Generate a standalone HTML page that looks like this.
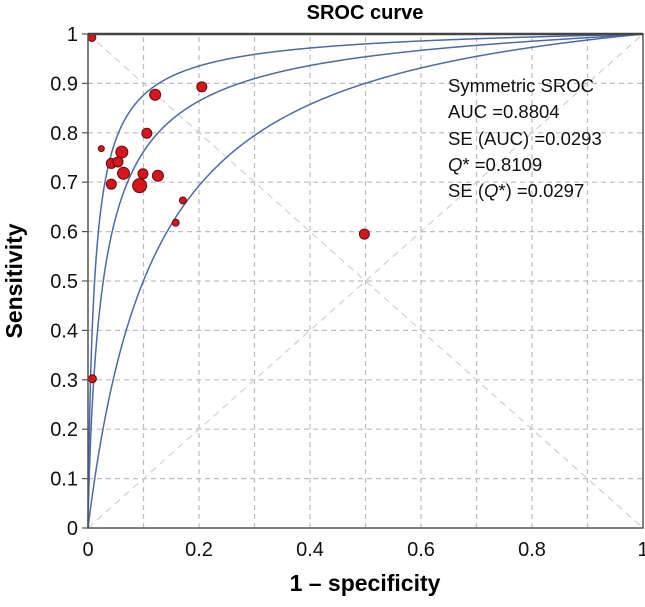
<!DOCTYPE html>
<html><head><meta charset="utf-8"><style>
body{margin:0;background:#fff;}
svg text{font-family:"Liberation Sans",Arial,sans-serif;}
</style></head><body>
<svg id="chart" width="645" height="602" viewBox="0 0 645 602" xmlns="http://www.w3.org/2000/svg">
<text x="365" y="19" text-anchor="middle" font-size="20" font-weight="bold">SROC curve</text>
<g id="grid"></g>
<g id="curves"></g>
<g id="points"></g>
<g id="axes"></g>
<text x="22" y="281" transform="rotate(-90 22 281)" text-anchor="middle" font-size="23" font-weight="bold">Sensitivity</text>
<text x="365" y="591" text-anchor="middle" font-size="23" font-weight="bold">1 – specificity</text>
<g font-size="18.5" fill="#111">
<text x="448" y="92">Symmetric SROC</text>
<text x="448" y="118">AUC =0.8804</text>
<text x="448" y="145">SE (AUC) =0.0293</text>
<text x="448" y="171"><tspan font-style="italic">Q</tspan>* =0.8109</text>
<text x="448" y="197">SE (<tspan font-style="italic">Q</tspan>*) =0.0297</text>
</g>
</svg>
<script>
const xTicks = [0,0.2,0.4,0.6,0.8,1];
const xTickLabels = ["0","0.2","0.4","0.6","0.8","1"];
const yTicks = [0,0.1,0.2,0.3,0.4,0.5,0.6,0.7,0.8,0.9,1];
const yTickLabels = ["0","0.1","0.2","0.3","0.4","0.5","0.6","0.7","0.8","0.9","1"];
const gridVals = [0.1,0.2,0.3,0.4,0.5,0.6,0.7,0.8,0.9];
const curveA = [3.89, 3.03, 2.2];
const curveB = [0.88, 0.85, 1.0];
const ptX = [0.007,0.205,0.121,0.106,0.024,0.061,0.042,0.054,0.064,0.099,0.126,0.042,0.093,0.171,0.158,0.498,0.008];
const ptY = [0.993,0.893,0.877,0.799,0.768,0.761,0.738,0.741,0.718,0.717,0.713,0.696,0.693,0.663,0.618,0.595,0.302];
const ptR = [4,5,5.5,5,3,6,5,5,6,5,5.5,5,7,3.5,3.5,5,4];

const X0=88, X1=643, Y0=528, Y1=34;
const sx = v => X0 + v*(X1-X0);
const sy = v => Y0 - v*(Y0-Y1);
const NS="http://www.w3.org/2000/svg";
function mk(tag, attrs, parent){const e=document.createElementNS(NS,tag);for(const k in attrs)e.setAttribute(k,attrs[k]);parent.appendChild(e);return e;}
const grid=document.getElementById('grid'), axes=document.getElementById('axes'), curves=document.getElementById('curves'), pts=document.getElementById('points');

gridVals.forEach(v=>{
  const a=mk('line',{x1:sx(v),x2:sx(v),y1:sy(0),y2:sy(1),stroke:'#bdbdbd','stroke-width':1.2,'stroke-dasharray':'5,4'},grid);
  
  
  const b=mk('line',{x1:sx(0),x2:sx(1),y1:sy(v),y2:sy(v),stroke:'#bdbdbd','stroke-width':1.2,'stroke-dasharray':'5,4'},grid);
  
  
});
const d1=mk('line',{x1:sx(0),y1:sy(0),x2:sx(1),y2:sy(1),stroke:'#d0d0d0','stroke-width':1.2,'stroke-dasharray':'7,5'},grid);


const d2=mk('line',{x1:sx(0),y1:sy(1),x2:sx(1),y2:sy(0),stroke:'#d0d0d0','stroke-width':1.2,'stroke-dasharray':'7,5'},grid);



curveA.forEach((a,i)=>{
  const b=curveB[i]; let d='M'+sx(0)+','+sy(0);
  for(let k=1;k<1000;k++){
    const f=Math.pow(k/1000,2.2);
    const lf=Math.log(f/(1-f));
    const s=1/(1+Math.exp(-(a+b*lf)));
    d+=' L'+sx(f).toFixed(2)+','+sy(s).toFixed(2);
  }
  d+=' L'+sx(1)+','+sy(1);
  const p=mk('path',{d:d,fill:'none',stroke:'#4a6aa8','stroke-width':1.5},curves);
  
  
});

ptX.forEach((x,i)=>{
  const c=mk('circle',{cx:sx(x),cy:sy(ptY[i]),r:ptR[i],fill:'#d8141c',stroke:'#5a1010','stroke-width':1},pts);
  
  
});

const frame=mk('rect',{x:X0,y:Y1,width:X1-X0,height:Y0-Y1,fill:'none',stroke:'#555','stroke-width':1.5},axes);


const topLine=mk('line',{x1:X0,x2:X1,y1:Y1,y2:Y1,stroke:'#444','stroke-width':2.5},axes);


xTicks.forEach((v,i)=>{
  const t=mk('text',{x:sx(v),y:556,'text-anchor':'middle','font-size':20,fill:'#111'},axes);
  t.textContent=xTickLabels[i];
  
  
});
yTicks.forEach((v,i)=>{
  const tk=mk('line',{x1:X0-6,x2:X0,y1:sy(v),y2:sy(v),stroke:'#555','stroke-width':1.2},axes);
  
  
  const t=mk('text',{x:X0-10,y:sy(v)+7,'text-anchor':'end','font-size':20,fill:'#111'},axes);
  t.textContent=yTickLabels[i];
  
  
});
</script>
</body></html>
